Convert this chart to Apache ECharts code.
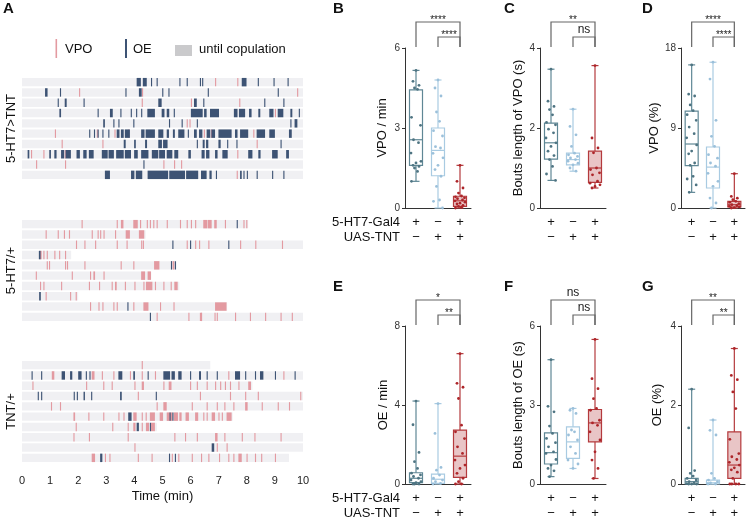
<!DOCTYPE html>
<html>
<head>
<meta charset="utf-8">
<script src="https://cdn.jsdelivr.net/npm/echarts@6/dist/echarts.min.js"></script>
<style>
  html, body { margin: 0; padding: 0; background: #fff; }
  #chart { width: 748px; height: 524px; }
</style>
</head>
<body>
<div id="chart"></div>
<script>
// ---- panel A: ethogram rasters (minutes) ----
const timeTicks = [0, 1, 2, 3, 4, 5, 6, 7, 8, 9, 10];
const genotypes = ['5-HT7>TNT', '5-HT7/+', 'TNT/+'];
const legendLabels = ['VPO', 'OE', 'until copulation'];

// a number is a short bout, a pair is [start, end]
const tntEnd = [10, 10, 10, 10, 10, 10, 10, 10, 10, 10];
const tntVPO = [
  [6.87, 7.66],
  [2.03, 4.27, 9.79],
  [4.26, 6.01, 7.73],
  [9.0],
  [5.86, 5.96],
  [1.17, 2.66, 3.29, 3.78, 6.47, 6.72, 8.23],
  [1.41, 2.86, 8.35],
  [0.32, 0.76, 1.52, 7.66],
  [0.50, 1.53, 5.03, 5.41, 5.66],
  [7.64]
];
const tntOE = [
  [[4.08, 4.23], [4.30, 4.44], 4.59, 4.79, 5.60, 5.86, 6.33, 6.41, [7.82, 7.99], 8.39, 8.95, 9.45],
  [[0.82, 0.91], 1.35, 3.68, [4.16, 4.26], 4.99, 5.21, 6.61, 9.1],
  [1.27, [1.52, 1.59], 2.19, [4.85, 4.97], [6.12, 6.22], 6.45, 8.62, 9.3],
  [[1.33, 1.39], 2.69, [3.13, 3.23], 3.50, 3.87, 4.06, 4.24, [4.46, 4.73], [4.97, 5.07], [5.15, 5.24], 5.40,
   [6.01, 6.43], [6.48, 6.57], [6.69, 7.01], [7.54, 7.67], [7.72, 7.94], [8.08, 8.17], [8.41, 8.48],
   [8.8, 8.95], [9.1, 9.3], [9.55, 9.62], 9.85],
  [[2.89, 2.95], 3.25, 3.43, 3.96, 5.23, 5.68, 6.22, 9.55, [9.7, 9.8]],
  [[2.39, 2.43], 2.56, 2.69, 2.86, 3.07, [3.37, 3.47], [3.52, 3.62], [3.66, 3.84], [4.24, 4.36], [4.40, 4.73],
   [4.85, 5.03], [5.15, 5.23], [5.37, 5.44], [5.56, 5.78], 5.90, [6.12, 6.22], [6.30, 6.42], [6.57, 6.70],
   [6.74, 6.87], [6.99, 7.46], [7.58, 7.67], [7.76, 8.05], [8.35, 8.65], [8.8, 9.0], [9.5, 9.6]],
  [[3.62, 3.69], [3.99, 4.05], [4.38, 4.45], [4.85, 4.98], [5.02, 5.18], 6.22, [6.43, 6.50], [6.55, 6.63],
   [6.99, 7.07], 7.30, 7.63, 9.2],
  [[0.20, 0.26], [0.97, 1.03], [1.15, 1.23], [1.39, 1.50], [1.55, 1.74], [1.94, 2.06], [2.18, 2.30], [2.38, 2.55],
   [2.84, 3.05], [3.08, 3.27], [3.35, 3.62], [3.66, 3.88], [3.99, 4.12], [4.24, 4.50], [4.62, 4.85], [4.88, 5.09],
   [5.15, 5.35], [5.42, 5.56], [5.92, 6.01], [6.39, 6.50], [6.55, 6.67], [6.87, 6.96], [7.13, 7.32], [8.05, 8.20],
   [8.41, 8.49], [8.9, 9.1], [9.4, 9.5]],
  [4.32],
  [[2.95, 3.13], [3.88, 4.00], [4.05, 4.28], [4.47, 5.2], [5.24, 5.8], [5.84, 6.27], [6.37, 6.57], [6.67, 6.75],
   6.90, [7.76, 7.82], 7.88, 8.0, 8.35, 8.9, 9.3]
];

const htEnd = [8.05, 4.4, 10, 1.75, 5.5, 4.6, 5.6, 2.0, 7.3, 10];
const htVPO = [
  [2.12, 3.37, [3.52, 3.61], [3.96, 4.12], 4.20, 4.44, 4.55, 4.67, 4.79, 5.15, 5.62, 5.86, 6.01, 6.16,
   [6.45, 6.60], [6.62, 6.75], [6.84, 6.93], 7.22, 7.88, 7.98],
  [0.84, 1.27, 1.49, 1.67, 2.48, 2.69, 2.78, 2.90, 3.31, [3.69, 3.84], [4.16, 4.35]],
  [1.92, 2.22, 2.60, 3.37, 3.72, 4.24, 4.30, 5.86, 6.16, 6.30, 6.63, 7.76, 8.3, 9.25],
  [[0.63, 0.70], 0.76, 0.88, 1.15, 1.32, 1.53],
  [0.88, 0.96, 1.53, 1.60, 2.22, 3.51, 3.96, [4.70, 4.89], [5.36, 5.42]],
  [0.49, 1.77, 2.42, [2.54, 2.60], 2.90, [4.24, 4.38], [4.47, 4.59]],
  [0.64, 0.76, 1.39, 2.38, 2.74, 3.19, [3.31, 3.37], 3.66, 4.00, 4.32, [4.41, 4.64], 4.73, 5.03, 5.29, [5.42, 5.54]],
  [0.84, 1.71, 1.91],
  [2.42, 2.72, 2.86, 3.25, 3.37, 3.96, [4.32, 4.50], 4.91, 5.39, [6.87, 7.28]],
  [4.79, 5.92, 6.33, 6.37, 6.85, 6.93, 7.58, 8.11, 8.65, 9.2, 9.6]
];
const htOE = [
  [7.64], [], [5.35, 5.98, 7.34], [[0.60, 0.66]], [5.30, 5.44], [], [], [[0.61, 0.67]], [3.75], [4.55]
];

const uasEnd = [6.7, 10, 8.2, 10, 10, 7.5, 4.8, 10, 10, 9.5];
const uasVPO = [
  [4.26],
  [[1.06, 1.15], [2.48, 2.58], 2.84, 3.25, 3.84, 4.26, 4.73, 7.34, 9.3],
  [0.37, 2.28, 2.89, 3.19, 4.00, [4.26, 4.34], 5.03, [5.22, 5.32], 5.98, 6.22, 6.57, 6.87, 7.05, 7.22, 7.40, 7.70, [8.05, 8.15]],
  [4.12, 6.33, 7.40, 7.94, 8.39, 9.9],
  [1.03, 1.35, 4.79, [5.03, 5.15], 6.04, 6.57, 6.93, 7.20, 7.52, [7.94, 8.03], 8.53, 9.1, 9.5],
  [[1.83, 1.89], 2.36, 2.89, 3.43, 3.61, [3.96, 4.08], 4.26, 4.40, [4.55, 4.73], [4.90, 5.02], [5.15, 5.35],
   [5.40, 5.55], [5.60, 5.68], [5.82, 5.94], [6.16, 6.27], 6.45, 6.57, [6.75, 6.87], 6.99, 7.11, [7.28, 7.46]],
  [1.91, 3.21, 3.76, [3.96, 4.04], 4.26, [4.41, 4.52], [4.59, 4.73]],
  [1.83, 2.38, 3.76, 5.42, 5.80, 6.22, [6.87, 6.96], 7.20, 7.82, 8.27, 9.2],
  [4.00, 6.93, 7.28],
  [[2.48, 2.60], 2.95, 3.11, 4.12, 4.61, 5.33, 5.56, 6.04, 6.37, 6.63, 7.01, 7.34, 7.52, [7.70, 7.82], 7.99, 8.29, 8.51, 9.0]
];
const uasOE = [
  [],
  [0.34, 0.68, [1.41, 1.53], [1.71, 1.79], [2.0, 2.12], 2.27, 2.40, [3.43, 3.57], [3.96, 4.02], 4.47, [5.03, 5.27],
   [5.32, 5.44], [5.56, 5.68], 5.98, [6.30, 6.37], 6.57, 6.93, [7.58, 7.76], 7.94, 8.29, [8.47, 8.59], 9.0, 9.7],
  [],
  [0.56, 0.68, 1.84, 1.95, [2.19, 2.24], 2.46, [3.49, 3.55], 4.76],
  [],
  [[3.78, 3.90], 5.25, 5.35],
  [[4.08, 4.16], 4.55],
  [],
  [[6.75, 6.84]],
  [[2.78, 2.86], 5.23, 5.44]
];

// ---- panels B-G: box plots ----
const gal4Row = ['+', '\u2212', '+'];
const uasRow = ['\u2212', '+', '+'];
const rowTitles = ['5-HT7-Gal4', 'UAS-TNT'];

// [min, Q1, median, Q3, max]
const vpoRateBox = [[1.0, 1.6, 2.56, 4.43, 5.16], [0, 1.21, 2.16, 3.0, 4.8], [0, 0.06, 0.27, 0.44, 1.6]];
const vpoRatePts = [
  [5.16, 4.75, 4.6, 4.5, 4.45, 3.4, 3.1, 2.56, 2.45, 2.06, 1.75, 1.69, 1.6, 1.56, 1.5, 1.37, 1.0],
  [4.8, 4.5, 4.2, 3.6, 3.25, 2.9, 2.7, 2.3, 2.25, 2.05, 1.88, 1.6, 1.44, 1.19, 0.81, 0.3, 0.25, 0],
  [1.6, 1.0, 0.75, 0.56, 0.45, 0.42, 0.38, 0.35, 0.3, 0.27, 0.22, 0.18, 0.15, 0.1, 0.06, 0.03, 0]
];
const vpoBoutBox = [[0.69, 1.22, 1.63, 2.12, 3.47], [0.92, 1.08, 1.21, 1.37, 2.47], [0.5, 0.64, 1.0, 1.42, 3.56]];
const vpoBoutPts = [
  [3.47, 2.67, 2.54, 2.46, 2.33, 2.14, 2.08, 1.97, 1.88, 1.75, 1.63, 1.54, 1.42, 1.31, 1.21, 1.04, 0.85, 0.69],
  [2.47, 2.04, 1.83, 1.54, 1.37, 1.33, 1.29, 1.25, 1.21, 1.17, 1.12, 1.08, 1.0, 0.92],
  [3.56, 1.75, 1.5, 1.38, 1.0, 0.96, 0.88, 0.83, 0.67, 0.62, 0.58, 0.54, 0.5]
];
const vpoPctBox = [[1.76, 4.76, 7.2, 10.9, 16.1], [0, 2.25, 4.6, 6.86, 16.4], [0, 0.11, 0.37, 0.75, 3.86]];
const vpoPctPts = [
  [16.1, 12.8, 12.6, 11.6, 10.95, 10.5, 9.86, 9.1, 8.36, 7.9, 7.1, 6.4, 6.1, 5.06, 4.8, 3.56, 3.26, 2.6, 1.76],
  [16.4, 14.5, 9.86, 8.06, 6.94, 6.0, 5.6, 5.06, 4.7, 3.9, 3.0, 2.44, 1.12, 0.56, 0],
  [3.86, 1.3, 1.1, 0.94, 0.75, 0.64, 0.5, 0.37, 0.26, 0.19, 0.11, 0.05, 0]
];
const oeRateBox = [[0, 0.07, 0.29, 0.57, 4.2], [0, 0.03, 0.24, 0.5, 4.07], [0, 0.34, 1.41, 2.73, 6.6]];
const oeRatePts = [
  [4.2, 3.0, 1.6, 1.13, 0.79, 0.55, 0.46, 0.38, 0.29, 0.2, 0.12, 0.07, 0, 0, 0],
  [4.07, 2.56, 0.84, 0.7, 0.45, 0.29, 0.2, 0.12, 0.03, 0],
  [6.6, 5.1, 4.9, 4.33, 2.98, 2.64, 2.3, 1.88, 1.55, 1.21, 0.96, 0.79, 0.54, 0.29, 0.12, 0, 0]
];
const oeBoutBox = [[0.28, 0.76, 1.19, 1.94, 4.72], [0.59, 0.97, 1.6, 2.17, 2.87], [0.21, 1.6, 2.32, 2.83, 5.49]];
const oeBoutPts = [
  [4.72, 2.95, 2.74, 2.2, 1.92, 1.73, 1.57, 1.41, 1.22, 1.16, 0.93, 0.72, 0.59, 0.5, 0.28],
  [2.87, 2.8, 2.68, 2.05, 1.98, 1.86, 1.67, 1.41, 1.16, 0.91, 0.76, 0.59],
  [5.49, 4.0, 3.62, 3.24, 2.87, 2.8, 2.42, 2.32, 2.23, 1.98, 1.67, 1.22, 0.91, 0.59, 0.21]
];
const oePctBox = [[0, 0, 0.06, 0.14, 2.4], [0, 0, 0.03, 0.1, 1.62], [0, 0.14, 0.48, 1.32, 3.43]];
const oePctPts = [
  [2.4, 1.42, 0.34, 0.27, 0.2, 0.14, 0.1, 0.06, 0.03, 0.01, 0, 0, 0],
  [1.62, 1.36, 1.24, 0.27, 0.14, 0.1, 0.06, 0.03, 0, 0],
  [3.43, 2.75, 2.64, 2.33, 1.91, 1.13, 0.77, 0.69, 0.62, 0.55, 0.48, 0.41, 0.36, 0.3, 0.14, 0, 0, 0, 0]
];

const sigB = ['****', '****'];
const sigC = ['**', 'ns'];
const sigD = ['****', '****'];
const sigE = ['*', '**'];
const sigF = ['ns', 'ns'];
const sigG = ['**', '**'];

// ---- drawing ----
const FONT = '"Liberation Sans", Arial, sans-serif';
const VPO_COLOR = '#e39aa1';
const OE_COLOR = '#3d5374';
const BG_COLOR = '#f0f0f3';
const SHORT = 0.04;
const groupStyle = [
  { line: '#5f8795', dot: '#4e7482', fill: '#ffffff' },
  { line: '#a9cbe2', dot: '#9bc0da', fill: '#ffffff' },
  { line: '#b43a3d', dot: '#ad2529', fill: '#e9c5c6' }
];
const jitter = [0, -3, 3, -1.5, 1.5, -4.5, 4.5, -2.5, 2.5, -5, 5];

const chart = echarts.init(document.getElementById('chart'), null, { renderer: 'canvas' });

function bouts(rows) {
  const out = [];
  rows.forEach((list, r) => list.forEach(b => {
    const s = Array.isArray(b) ? b[0] : b;
    const e = Array.isArray(b) ? b[1] : b + SHORT;
    out.push([r, s, e]);
  }));
  return out;
}

function barItem(params, api) {
  const row = api.value(0);
  const p0 = api.coord([api.value(1), row]);
  const p1 = api.coord([api.value(2), row]);
  const h = api.size([0, 1])[1] * 0.82;
  return {
    type: 'rect',
    shape: { x: p0[0], y: p0[1] - h / 2, width: Math.max(p1[0] - p0[0], 0.8), height: h },
    style: { fill: api.visual('color') }
  };
}

const rasterGrids = [
  { top: 77, ends: tntEnd, vpo: tntVPO, oe: tntOE },
  { top: 219, ends: htEnd, vpo: htVPO, oe: htOE },
  { top: 360, ends: uasEnd, vpo: uasVPO, oe: uasOE }
];

const grid = [], xAxis = [], yAxis = [], series = [];

rasterGrids.forEach((g, i) => {
  grid.push({ left: 22, top: g.top, width: 281, height: 103 });
  const last = i === 2;
  xAxis.push({
    gridIndex: i, type: 'value', min: 0, max: 10, interval: 1,
    axisLine: { show: false }, axisTick: { show: false }, splitLine: { show: false },
    axisLabel: { show: last, fontSize: 11, color: '#222', margin: 12, fontFamily: FONT,
      formatter: v => timeTicks.includes(v) ? String(v) : '' },
    name: last ? 'Time (min)' : '', nameLocation: 'middle', nameGap: 27,
    nameTextStyle: { fontSize: 13, color: '#111', fontFamily: FONT }
  });
  yAxis.push({
    gridIndex: i, type: 'category', inverse: true,
    data: g.ends.map((_, r) => String(r)),
    axisLine: { show: false }, axisTick: { show: false }, axisLabel: { show: false },
    name: genotypes[i], nameLocation: 'middle', nameGap: 4, nameRotate: 90,
    nameTextStyle: { fontSize: 13, color: '#111', fontFamily: FONT }
  });
  const common = { type: 'custom', xAxisIndex: i, yAxisIndex: i, renderItem: barItem, encode: { x: [1, 2], y: 0 }, silent: true, animation: false };
  series.push(Object.assign({}, common, { itemStyle: { color: BG_COLOR }, data: g.ends.map((e, r) => [r, 0, e]) }));
  series.push(Object.assign({}, common, { itemStyle: { color: VPO_COLOR }, data: bouts(g.vpo) }));
  series.push(Object.assign({}, common, { itemStyle: { color: OE_COLOR }, data: bouts(g.oe) }));
});

const panels = [
  { letter: 'B', lx: 333, box: vpoRateBox, pts: vpoRatePts, max: 6, name: 'VPO / min', left: 405, top: 48, h: 160, w: 66, gap: 16, sig: sigB, titles: true },
  { letter: 'C', lx: 504, box: vpoBoutBox, pts: vpoBoutPts, max: 4, name: 'Bouts length of VPO (s)', left: 540, top: 48, h: 160, w: 66, gap: 15, sig: sigC },
  { letter: 'D', lx: 642, box: vpoPctBox, pts: vpoPctPts, max: 18, name: 'VPO (%)', left: 681, top: 48, h: 160, w: 64, gap: 20, sig: sigD },
  { letter: 'E', lx: 333, box: oeRateBox, pts: oeRatePts, max: 8, name: 'OE / min', left: 405, top: 326, h: 158, w: 66, gap: 15, sig: sigE, titles: true },
  { letter: 'F', lx: 504, box: oeBoutBox, pts: oeBoutPts, max: 6, name: 'Bouts length of OE (s)', left: 540, top: 326, h: 158, w: 66, gap: 15, sig: sigF },
  { letter: 'G', lx: 642, box: oePctBox, pts: oePctPts, max: 4, name: 'OE (%)', left: 681, top: 326, h: 158, w: 64, gap: 17, sig: sigG }
];

function boxItem(params, api) {
  const c = api.value(0);
  const pMin = api.coord([c, api.value(1)]);
  const pQ1 = api.coord([c, api.value(2)]);
  const pMed = api.coord([c, api.value(3)]);
  const pQ3 = api.coord([c, api.value(4)]);
  const pMax = api.coord([c, api.value(5)]);
  const x = pMin[0], bw = 13, cw = 7;
  const st = groupStyle[c];
  const ls = { stroke: st.line, lineWidth: 1.2 };
  return {
    type: 'group',
    children: [
      { type: 'line', shape: { x1: x, y1: pMax[1], x2: x, y2: pMin[1] }, style: ls },
      { type: 'line', shape: { x1: x - cw / 2, y1: pMax[1], x2: x + cw / 2, y2: pMax[1] }, style: ls },
      { type: 'line', shape: { x1: x - cw / 2, y1: pMin[1], x2: x + cw / 2, y2: pMin[1] }, style: ls },
      { type: 'rect', shape: { x: x - bw / 2, y: pQ3[1], width: bw, height: Math.max(pQ1[1] - pQ3[1], 1) },
        style: { fill: st.fill, stroke: st.line, lineWidth: 1.2 } },
      { type: 'line', shape: { x1: x - bw / 2, y1: pMed[1], x2: x + bw / 2, y2: pMed[1] }, style: ls }
    ]
  };
}

function dotItem(params, api) {
  const c = api.value(0);
  const p = api.coord([c, api.value(1)]);
  const dx = jitter[api.value(2) % jitter.length];
  return { type: 'circle', shape: { cx: p[0] + dx, cy: p[1], r: 1.4 }, style: { fill: groupStyle[c].dot } };
}

panels.forEach((p, k) => {
  const gi = 3 + k;
  grid.push({ left: p.left, top: p.top, width: p.w, height: p.h });
  xAxis.push({
    gridIndex: gi, type: 'category', data: [0, 1, 2].map(i => gal4Row[i] + '\n' + uasRow[i]),
    axisTick: { show: false }, axisLine: { lineStyle: { color: '#333', width: 1 } },
    axisLabel: { fontSize: 13, lineHeight: 15, margin: 7, color: '#111', fontFamily: FONT }
  });
  yAxis.push({
    gridIndex: gi, type: 'value', min: 0, max: p.max, interval: p.max / 2,
    name: p.name, nameLocation: 'middle', nameGap: p.gap,
    nameTextStyle: { fontSize: 13, color: '#111', fontFamily: FONT },
    axisLine: { show: true, lineStyle: { color: '#333', width: 1 } },
    axisTick: { show: true, length: 3, lineStyle: { color: '#333' } },
    axisLabel: { fontSize: 10, margin: 5, color: '#333', fontFamily: FONT },
    splitLine: { show: false }
  });
  series.push({
    type: 'custom', xAxisIndex: gi, yAxisIndex: gi, renderItem: boxItem, silent: true, animation: false,
    encode: { x: 0, y: [1, 2, 3, 4, 5] },
    data: p.box.map((b, c) => [c].concat(b))
  });
  const dots = [];
  p.pts.forEach((list, c) => list.forEach((v, j) => dots.push([c, v, j])));
  series.push({
    type: 'custom', xAxisIndex: gi, yAxisIndex: gi, renderItem: dotItem, silent: true, animation: false,
    encode: { x: 0, y: 1 }, data: dots
  });
});

chart.setOption({
  backgroundColor: '#ffffff',
  animation: false,
  textStyle: { fontFamily: FONT },
  grid, xAxis, yAxis, series
});

// annotations
const gfx = [];
function letter(t, x, y) {
  gfx.push({ type: 'text', left: x, top: y, style: { text: t, fontSize: 15, fontWeight: 'bold', fill: '#111', fontFamily: FONT } });
}
letter('A', 3, 1);
panels.forEach(p => letter(p.letter, p.lx, p.top - 47));

// legend of panel A
gfx.push({ type: 'rect', shape: { x: 55.5, y: 39, width: 1.6, height: 19 }, style: { fill: VPO_COLOR } });
gfx.push({ type: 'text', x: 65, y: 49, style: { text: legendLabels[0], fontSize: 13, fill: '#111', verticalAlign: 'middle', fontFamily: FONT } });
gfx.push({ type: 'rect', shape: { x: 125, y: 39, width: 2, height: 19 }, style: { fill: OE_COLOR } });
gfx.push({ type: 'text', x: 133, y: 49, style: { text: legendLabels[1], fontSize: 13, fill: '#111', verticalAlign: 'middle', fontFamily: FONT } });
gfx.push({ type: 'rect', shape: { x: 175, y: 45, width: 17, height: 11 }, style: { fill: '#cacacc' } });
gfx.push({ type: 'text', x: 199, y: 49, style: { text: legendLabels[2], fontSize: 13, fill: '#111', verticalAlign: 'middle', fontFamily: FONT } });

panels.forEach((p, k) => {
  const gi = 3 + k;
  const xs = [0, 1, 2].map(c => chart.convertToPixel({ gridIndex: gi }, [c, 0])[0]);
  const y1 = p.top - 26, y2 = p.top - 11, yEnd = p.top - 1;
  const ls = { stroke: '#666', lineWidth: 1.2, fill: null };
  gfx.push({ type: 'polyline', shape: { points: [[xs[0], yEnd], [xs[0], y1], [xs[2], y1], [xs[2], yEnd]] }, style: ls });
  gfx.push({ type: 'polyline', shape: { points: [[xs[1], yEnd], [xs[1], y2], [xs[2], y2], [xs[2], yEnd]] }, style: ls });
  [[p.sig[0], (xs[0] + xs[2]) / 2, y1], [p.sig[1], (xs[1] + xs[2]) / 2, y2]].forEach(([t, x, y]) => {
    const stars = t.indexOf('*') >= 0;
    gfx.push({ type: 'text', x: x, y: stars ? y - 2 : y - 1,
      style: { text: t, fontSize: stars ? 10 : 12, fill: '#222', align: 'center',
        verticalAlign: stars ? 'middle' : 'bottom', fontFamily: FONT } });
  });
  if (p.titles) {
    const base = p.top + p.h;
    rowTitles.forEach((t, r) => gfx.push({ type: 'text', x: p.left - 5, y: base + 14 + r * 15,
      style: { text: t, fontSize: 13, fill: '#111', align: 'right', verticalAlign: 'middle', fontFamily: FONT } }));
  }
});

chart.setOption({ graphic: gfx });
</script>
</body>
</html>
